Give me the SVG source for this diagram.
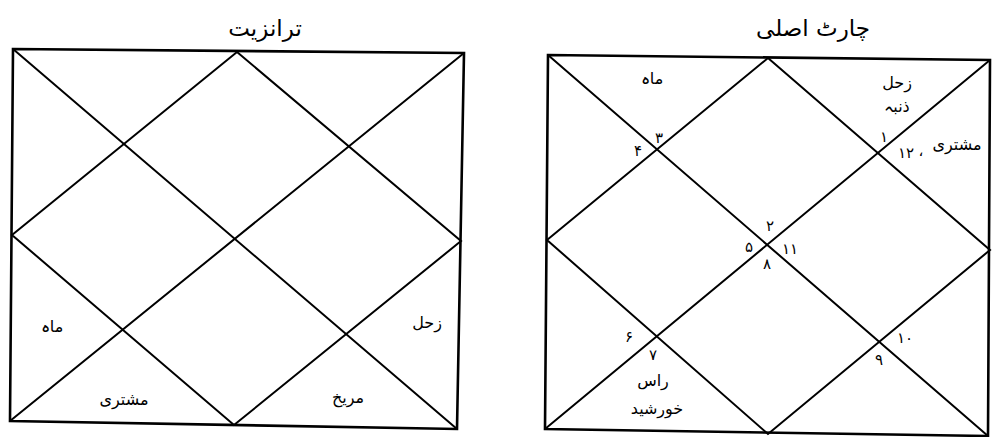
<svg xmlns="http://www.w3.org/2000/svg" width="992" height="437" viewBox="0 0 992 437">
<style>
.ln{stroke:#000;stroke-width:2;fill:none;stroke-linecap:round}
.fr{stroke:#000;stroke-width:2.6;fill:none;stroke-linejoin:miter}
.t{font-family:"DejaVu Sans",sans-serif;font-size:16px;fill:#000;text-anchor:middle}
.n{font-family:"DejaVu Sans",sans-serif;font-size:15px;fill:#000;text-anchor:middle}
.h{font-family:"DejaVu Sans",sans-serif;font-size:23px;fill:#000;text-anchor:middle}
</style>
<rect width="992" height="437" fill="#fff"/>
<g id="transit-chart">
  <text class="h" x="265" y="36">ترانزیت</text>
  <polygon class="fr" points="13,49 464,53 457,429 10,421"/>
</g>
<g id="original-chart">
  <text class="h" x="813" y="36">چارٹ اصلی</text>
  <polygon class="fr" points="548,55 990,60 988,436 545,429"/>
</g>
<g id="connectors">
  <line class="ln" x1="13" y1="49" x2="457" y2="429"/>
  <line class="ln" x1="464" y1="53" x2="10" y2="421"/>
  <polygon class="ln" points="237,52 461,241 234,425 12,235"/>
  <line class="ln" x1="548" y1="55" x2="988" y2="436"/>
  <line class="ln" x1="990" y1="60" x2="545" y2="429"/>
  <polygon class="ln" points="768,58 990,250 768,434 547,240"/>
</g>
<g id="transit-labels">
  <text class="t" x="52" y="332">ماہ</text>
  <text class="t" x="427" y="328">زحل</text>
  <text class="t" x="124" y="405">مشتری</text>
  <text class="t" x="348" y="403">مریخ</text>
</g>
<g id="original-labels">
  <text class="t" x="652" y="84">ماہ</text>
  <text class="t" x="897" y="88">زحل</text>
  <text class="t" x="897" y="112">ذنبہ</text>
  <text class="t" x="957" y="150">مشتری</text>
  <text class="n" x="921" y="156">،</text>
  <text class="n" x="906" y="158">۱۲</text>
  <text class="n" x="884" y="142">۱</text>
  <text class="n" x="659" y="143">۳</text>
  <text class="n" x="638" y="156">۴</text>
  <text class="n" x="770" y="231">۲</text>
  <text class="n" x="749" y="252">۵</text>
  <text class="n" x="790" y="254">۱۱</text>
  <text class="n" x="767" y="269">۸</text>
  <text class="n" x="629" y="342">۶</text>
  <text class="n" x="653" y="360">۷</text>
  <text class="t" x="653" y="386">راس</text>
  <text class="t" x="657" y="414">خورشید</text>
  <text class="n" x="905" y="343">۱۰</text>
  <text class="n" x="879" y="365">۹</text>
</g>
</svg>
